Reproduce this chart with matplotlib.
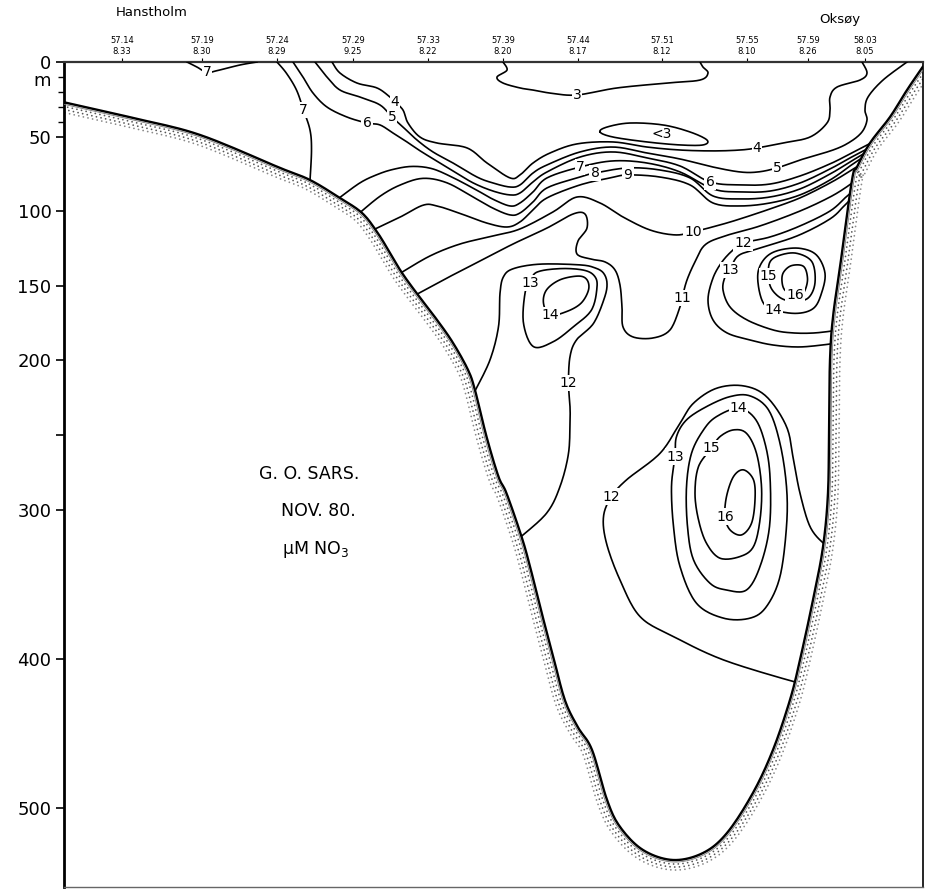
import numpy as np
import matplotlib
matplotlib.use("Agg")
import matplotlib.pyplot as plt
from matplotlib.patches import Polygon

# ---------------- data (distance along section, depth m) ----------------
station_d = [10, 26, 41, 56.2, 71.2, 86.2, 101.2, 118, 135, 147.2, 158.6]
station_lat = ["57.14", "57.19", "57.24", "57.29", "57.33", "57.39",
               "57.44", "57.51", "57.55", "57.59", "58.03"]
station_lon = ["8.33", "8.30", "8.29", "9.25", "8.22", "8.20",
               "8.17", "8.12", "8.10", "8.26", "8.05"]

depth_ticks = [0, 50, 100, 150, 200, 250, 300, 400, 500]
depth_labels = ["0", "50", "100", "150", "200", "", "300", "400", "500"]
minor_ticks = [10, 20, 30, 40]

seafloor = [(-1.6, 27.0), (12.2, 37.5), (25.6, 48.9), (41.6, 71.0), (47.6, 79.1),
            (53.6, 91.2), (58.0, 101.2), (61.0, 113.9), (63.6, 128.0), (66.0, 141.4),
            (69.2, 156.2), (73.0, 172.9), (76.2, 188.3), (79.2, 206.4), (80.6, 220.0),
            (82.9, 251.1), (85.3, 278.0), (86.9, 289.1), (89.9, 318.1), (91.6, 338.2),
            (93.6, 365.0), (96.2, 398.0), (98.6, 428.0), (101.2, 446.0), (104.0, 461.1),
            (107.0, 494.6), (109.6, 512.7), (114.2, 528.2), (120.2, 534.9), (126.2, 530.2),
            (131.0, 516.8), (136.2, 489.9), (140.2, 461.1), (143.6, 427.6), (145.6, 400.8),
            (148.2, 360.6), (150.2, 325.1), (151.2, 288.9), (151.4, 244.6), (151.6, 199.7),
            (152.2, 170.9), (153.8, 132.7), (156.0, 79.1), (157.0, 70.4), (159.6, 54.3),
            (163.6, 36.9), (167.0, 18.8), (170.2, 3.0)]

iso3 = [(86.2, 0), (87, 5.4), (85, 10.1), (86.2, 14.1), (89.6, 17.4), (92.2, 18.8),
        (96, 21.0), (101, 22.1), (109, 17.4), (119, 14.1), (125.6, 12.1), (127.2, 7.4),
        (126.2, 3.4), (125.6, 0)]
iso_lt3 = [(105.6, 46.9), (107, 43.6), (111.6, 40.9), (118.2, 42.2), (123.6, 46.9),
           (127, 52.3), (126.2, 55.6), (121.6, 55.6), (115, 53.6), (108.2, 50.3)]
iso4 = [(52, 0), (53.6, 7.4), (57, 14.1), (61, 17.4), (63.6, 23.5), (64.6, 26.8),
        (66.2, 32.2), (67.2, 40.9), (69.6, 50.3), (73, 54.3), (79, 57.6), (83, 67.7),
        (87.6, 77.7), (89.6, 75.7), (92.2, 67.7), (95.6, 61.0), (101, 54.9), (108.2, 53.6),
        (115, 57.0), (121.6, 59.0), (128.2, 59.6), (133.6, 59.0), (137, 57.6), (142.2, 54.3),
        (147.6, 50.3), (151, 40.9), (151.6, 32.2), (151.6, 23.5), (153, 16.8), (157.6, 12.1),
        (159, 7.4), (158, 0)]
iso5 = [(48.6, 0), (51, 10.1), (53.6, 18.8), (57.6, 23.5), (61.6, 28.8), (64, 36.9),
        (66.2, 43.6), (69, 52.3), (72.2, 60.3), (76.2, 67.7), (81, 77.1), (84.2, 81.1),
        (87.6, 83.8), (89.6, 82.4), (92.2, 74.4), (95, 69.0), (101.6, 60.3), (108.2, 57.0),
        (115, 61.0), (121.6, 65.0), (128.2, 70.4), (133.6, 73.7), (137.2, 73.7), (141, 71.0),
        (145.6, 65.7), (152.2, 59.0), (155.6, 53.6), (158, 46.9), (159, 38.9), (158.6, 32.2),
        (159.2, 23.5), (162.2, 12.1), (167, 0)]
iso6 = [(44.2, 0), (46.2, 10.1), (48.2, 20.8), (51, 30.2), (55, 36.9), (59, 40.9),
        (61.6, 42.2), (64.2, 47.6), (67, 53.6), (69.6, 59.5), (73, 66.5), (76.2, 73.0),
        (80.2, 81.0), (84.2, 86.5), (87.6, 89.1), (89.6, 87.8), (92.2, 80.4), (95, 73.7),
        (101.6, 63.7), (108.2, 60.3), (115, 64.3), (121.6, 69.7), (127.6, 80.4), (133.6, 82.4),
        (139.6, 81.8), (145.6, 76.4), (151.6, 68.3), (155.6, 61.6), (158.6, 56.3), (161, 52.3)]
iso7_top = [(23, 0), (25, 3.4), (27, 7.0), (29, 5.8), (33.6, 2.0), (37, 0)]
iso7_left = [(41, 0), (42.9, 7.6), (44.9, 18.8), (46.3, 32.2), (47.6, 45.6), (47.9, 59.0),
             (47.6, 79.5)]
iso7 = [(53.3, 91.5), (57.6, 81.0), (61, 75.5), (64.2, 72.0), (68, 70.0), (72, 71.5),
        (76.2, 77.5), (81, 86.0), (84.2, 92.0), (87.6, 96.5), (89.6, 94.5), (92.2, 87.1),
        (95, 77.7), (101.6, 70.4), (108.2, 66.3), (115, 67.7), (121.6, 73.7), (128.2, 85.1),
        (133.6, 87.1), (139.6, 86.5), (145.6, 81.1), (151.6, 71.7), (155.6, 64.3),
        (158.6, 59.0), (161, 55.0)]
iso8 = [(57.4, 101.5), (61.6, 90.0), (65.6, 82.5), (70.2, 78.0), (75, 81.0), (80.2, 90.5),
        (84.2, 98.0), (87.6, 102.5), (89.6, 101.2), (92.2, 93.8), (95, 84.4), (101.6, 77.1),
        (104.6, 74.4), (111.2, 71.0), (117.6, 72.4), (123.6, 77.7), (128.2, 89.8),
        (133.6, 91.8), (139.6, 90.5), (145.6, 85.1), (151.6, 75.1), (155.6, 67.0),
        (158.6, 61.0), (161, 57.0)]
iso9 = [(60.2, 112.6), (65.6, 104.0), (70.2, 96.0), (73, 96.5), (77.6, 101.5), (83, 108.0),
        (87, 110.6), (89.6, 107.2), (92.2, 99.2), (95, 91.1), (101.6, 82.4), (107.6, 77.7),
        (111.2, 75.7), (117.6, 77.1), (123.6, 82.4), (128.2, 94.5), (133.6, 96.5),
        (139.6, 94.5), (145.6, 89.1), (151.6, 79.1), (155.6, 69.7), (158.6, 63.0), (161, 59.0)]
iso10 = [(65.7, 141.5), (71.6, 130.0), (77.6, 122.0), (84.2, 116.6), (89.6, 111.9),
         (96.2, 100.5), (101, 90.5), (105.6, 94.5), (110.2, 103.9), (115.6, 112.6),
         (120.6, 115.9), (124.2, 113.9), (129.6, 109.2), (133.6, 105.2), (139.6, 98.5),
         (145.6, 91.1), (151.6, 81.1), (155.6, 73.1), (158.5, 67.0)]
iso11 = [(68.8, 156.0), (75, 144.8), (81.6, 133.4), (88.2, 122.0), (95, 111.3), (100.2, 101.9),
         (102.6, 101.9), (103, 111.3), (101.2, 120.0), (101, 128.7), (103.6, 132.0),
         (106.6, 134.0), (108.6, 139.4), (109.6, 149.5), (110, 164.2), (110.2, 177.6),
         (112.2, 184.3), (116.2, 185.0), (119.6, 179.6), (121.6, 164.2), (122, 158.2),
         (123, 146.1), (124.6, 134.0), (126.6, 122.6), (130.6, 116.6), (137.6, 109.9),
         (145.6, 99.9), (151.6, 90.5), (155.2, 83.1), (157.5, 77.0)]
iso12_left = [(80.6, 220.5), (83.6, 199.7), (85.3, 177.4), (85.6, 155.0), (86.3, 143.9),
              (88.3, 138.5), (93.6, 135.5), (101.6, 136.0), (104.6, 138.0), (106.3, 141.5),
              (107.0, 148.3), (106.5, 158.0), (104.3, 175.2), (100.9, 186.3), (99.6, 197.5),
              (99.3, 215.4), (99.6, 231.0), (99.6, 240.0), (99.3, 262.3), (97.6, 284.6),
              (94.9, 302.5), (89.5, 319.0)]
iso13_left = [(91.6, 148.3), (90.6, 155.0), (90.3, 175.2), (92.3, 190.8), (96.3, 187.4),
              (100.3, 177.4), (103.9, 166.2), (105.0, 151.0), (104.5, 143.5), (102.3, 139.5),
              (97.6, 138.5), (92.9, 141.0)]
iso14_left = [(95.6, 169.6), (94.3, 161.7), (94.9, 152.8), (97.6, 146.0), (101.3, 143.5),
              (103.0, 146.0), (103.3, 152.8), (101.8, 161.7), (98.9, 167.3)]
iso12_right = [(156, 87.1), (154.8, 90.5), (151.6, 99.9), (145.6, 109.9), (139.6, 117.3),
               (134.2, 121.3), (132.2, 126.0), (130, 134.0), (128.2, 144.8), (127.2, 159.5),
               (128.2, 172.9), (131, 181.6), (135.6, 186.3), (140.2, 189.7), (145.6, 191.0),
               (151.8, 189.0), (153.2, 188.3)]
iso13_right = [(156, 91.2), (154.6, 95.8), (151.6, 105.2), (145, 116.6), (137, 125.3),
               (133.2, 130.0), (131.6, 139.4), (130.6, 144.1), (130.2, 152.8), (131.6, 164.2),
               (135, 172.9), (140.2, 179.6), (144.2, 181.6), (148.6, 181.6), (153.6, 179.6)]
iso14_right = [(140.3, 166.2), (138.3, 161.7), (137.3, 150.6), (137.3, 139.4), (138.9, 130.5),
               (141.6, 126.0), (145.6, 124.9), (148.9, 129.4), (150.6, 141.6), (149.9, 155.0),
               (148.3, 165.1), (144.9, 168.5)]
iso15_right = [(139.3, 143.5), (139.6, 134.0), (141.6, 129.5), (144.9, 128.2), (148.0, 134.0),
               (148.6, 148.0), (147.3, 158.0), (144.6, 160.5), (141.9, 158.5), (139.9, 152.0)]
iso16_right = [(144.6, 156.2), (142.6, 153.0), (142.0, 147.0), (142.3, 141.0), (143.9, 136.5),
               (146.3, 137.0), (147.1, 145.0), (146.6, 153.0), (145.6, 156.5)]
iso12_deep = [(152, 325), (150.3, 322.6), (147.6, 311.4), (145.6, 289.1), (144.3, 266.7),
              (142.9, 244.4), (138.9, 224.3), (134.3, 217.1), (128.9, 218.7), (124.3, 228.7),
              (121.6, 242.1), (117.6, 262.3), (110.9, 280.1), (107.9, 291.3), (106.3, 304.7),
              (106.9, 322.6), (109.6, 347.2), (113.6, 371.7), (120.3, 385.1), (130.3, 400.8),
              (144.3, 415.3), (146.5, 416.2)]
iso13_deep = [(120.6, 264.5), (120.9, 251.1), (122.9, 239.9), (126.9, 231.0), (131.6, 224.3),
              (135.6, 223.8), (139.3, 233.2), (141.6, 255.6), (142.9, 284.6), (142.9, 311.4),
              (141.6, 344.9), (138.9, 365.0), (135.6, 372.8), (130.3, 372.8), (124.9, 362.8),
              (121.6, 338.2), (120.3, 311.4), (119.9, 284.6)]
iso14_deep = [(133.3, 232.1), (136.6, 239.0), (138.6, 255.6), (139.6, 277.9), (139.5, 311.4),
              (137.6, 338.2), (134.9, 353.9), (130.9, 353.9), (127.6, 349.4), (124.3, 333.7),
              (123.1, 311.4), (122.9, 284.6), (123.9, 262.3), (126.3, 246.6), (128.9, 237.7)]
iso15_deep = [(127.9, 258.9), (129.6, 251.1), (132.3, 246.6), (134.9, 248.9), (136.9, 262.3),
              (137.9, 284.6), (137.6, 306.9), (136.3, 324.8), (133.6, 331.5), (129.6, 332.6),
              (126.9, 322.6), (125.3, 306.9), (124.6, 289.1), (125.3, 271.2)]
iso16_deep = [(130.6, 304.7), (130.9, 291.3), (132.3, 277.9), (134.3, 273.4), (136.3, 280.1),
              (136.6, 293.5), (135.9, 309.2), (133.9, 317.0), (131.6, 313.6)]

# (points, label text, indices of label points, closed)
isolines = [
    (iso3, "3", [7], False), (iso_lt3, None, [], True),
    (iso4, "4", [5, 22], False), (iso5, "5", [5, 23], False), (iso6, "6", [5, 22], False),
    (iso7_top, "7", [2], False), (iso7_left, "7", [3], False),
    (iso7, "7", [13], False), (iso8, "8", [12], False), (iso9, "9", [12], False),
    (iso10, "10", [11], False), (iso11, "11", [20], False),
    (iso12_left, "12", [15], False), (iso13_left, "13", [0], True), (iso14_left, "14", [0], True),
    (iso12_right, "12", [5], False), (iso13_right, "13", [6], False),
    (iso14_right, "14", [0], True), (iso15_right, "15", [0], True), (iso16_right, "16", [0], True),
    (iso12_deep, "12", [13], False), (iso13_deep, "13", [0], True), (iso14_deep, "14", [0], True),
    (iso15_deep, "15", [0], True), (iso16_deep, "16", [0], True),
]
inner_label = ("<3", 118.0, 48.3)


def catmull(pts, closed=False, n=14):
    P = np.asarray(pts, float)
    if closed:
        P = np.vstack([P[-1], P, P[0], P[1]])
    else:
        P = np.vstack([P[0], P, P[-1]])
    out = []
    t = np.linspace(0, 1, n, endpoint=False)[:, None]
    for i in range(1, len(P) - 2):
        p0, p1, p2, p3 = P[i - 1], P[i], P[i + 1], P[i + 2]
        seg = 0.5 * (2 * p1 + (-p0 + p2) * t + (2 * p0 - 5 * p1 + 4 * p2 - p3) * t ** 2
                     + (-p0 + 3 * p1 - 3 * p2 + p3) * t ** 3)
        out.append(seg)
    out.append(P[-2][None, :])
    return np.vstack(out)


plt.rcParams["font.family"] = ["DejaVu Sans"]
fig = plt.figure(figsize=(9.28, 8.9), dpi=100)
ax = fig.add_axes([64 / 928, 3 / 890, 859 / 928, 825 / 890])
ax.set_xlim(-1.6, 170.2)
ax.set_ylim(553, 0)

# axes styling
ax.set_yticks(depth_ticks)
ax.set_yticklabels(depth_labels, fontsize=13)
ax.set_yticks(minor_ticks, minor=True)
ax.tick_params(axis="y", which="major", length=6, width=1.2, direction="out", pad=3,
               left=True, right=False)
ax.tick_params(axis="y", which="minor", length=4, width=1.0, direction="out", right=False)
ax.xaxis.set_ticks_position("top")
ax.set_xticks(station_d)
ax.set_xticklabels([f"{a}\n{b}" for a, b in zip(station_lat, station_lon)],
                   fontsize=6, linespacing=1.3)
ax.tick_params(axis="x", which="major", length=3, width=0.8, direction="out", pad=1.5,
               top=True, bottom=False, labeltop=True, labelbottom=False)
ax.spines["left"].set_linewidth(2.0)
ax.spines["top"].set_linewidth(1.6)
ax.spines["top"].set_color("#333333")
ax.spines["right"].set_linewidth(1.2)
ax.spines["bottom"].set_linewidth(1.0)
ax.spines["bottom"].set_color("#666666")

# water region used for clipping the isolines
sf = catmull(seafloor, n=10)
water = np.vstack([[[-1.6, -10.0]], sf, [[170.2, -10.0]]])
water_patch = Polygon(water, closed=True, transform=ax.transData, facecolor="none",
                      edgecolor="none")

# stippled rows outside the bottom profile
disp = ax.transData.transform(sf)
tang = np.gradient(disp, axis=0)
tang /= np.linalg.norm(tang, axis=1)[:, None] + 1e-9
normal = np.column_stack([tang[:, 1], -tang[:, 0]])
for k, (dist, phase) in enumerate([(4.0, 0.0), (7.0, 1.6), (10.0, 0.8)]):
    row = ax.transData.inverted().transform(disp + normal * dist)
    ax.plot(row[:, 0], row[:, 1], color="#3a3a3a", lw=1.3,
            linestyle=(phase, (0.01, 2.6)), dash_capstyle="round", zorder=2,
            alpha=0.85 if k < 2 else 0.6)
thin = ax.transData.inverted().transform(disp + normal * 2.0)
ax.plot(thin[:, 0], thin[:, 1], color="#777777", lw=0.6, zorder=3)
ax.plot(sf[:, 0], sf[:, 1], color="black", lw=1.7, zorder=4, solid_capstyle="round")

# isolines
for pts, txt, idx, closed in isolines:
    c = catmull(pts, closed=closed)
    ln, = ax.plot(c[:, 0], c[:, 1], color="black", lw=1.2, zorder=3)
    ln.set_clip_path(water_patch)
    if txt:
        for i in idx:
            x, y = pts[i]
            ax.text(x, y, txt, fontsize=10, ha="center", va="center", zorder=5,
                    bbox=dict(boxstyle="square,pad=0.08", fc="white", ec="none"))
ax.text(inner_label[1], inner_label[2], inner_label[0], fontsize=10, ha="center",
        va="center", zorder=5)

# annotations
ax.text(47.4, 276, "G. O. SARS.", fontsize=12.5, ha="center", va="center")
ax.text(49.2, 301, "NOV. 80.", fontsize=12.5, ha="center", va="center")
ax.text(48.8, 327, "\u03bcM NO$_3$", fontsize=12.5, ha="center", va="center")
fig.text(42 / 928, 1 - 81 / 890, "m", fontsize=13, ha="center", va="center")
fig.text(152 / 928, 1 - 12 / 890, "Hanstholm", fontsize=9.5, ha="center", va="center")
fig.text(840 / 928, 1 - 19 / 890, "Oksøy", fontsize=9.5, ha="center", va="center")

fig.savefig("out.png", dpi=100)
